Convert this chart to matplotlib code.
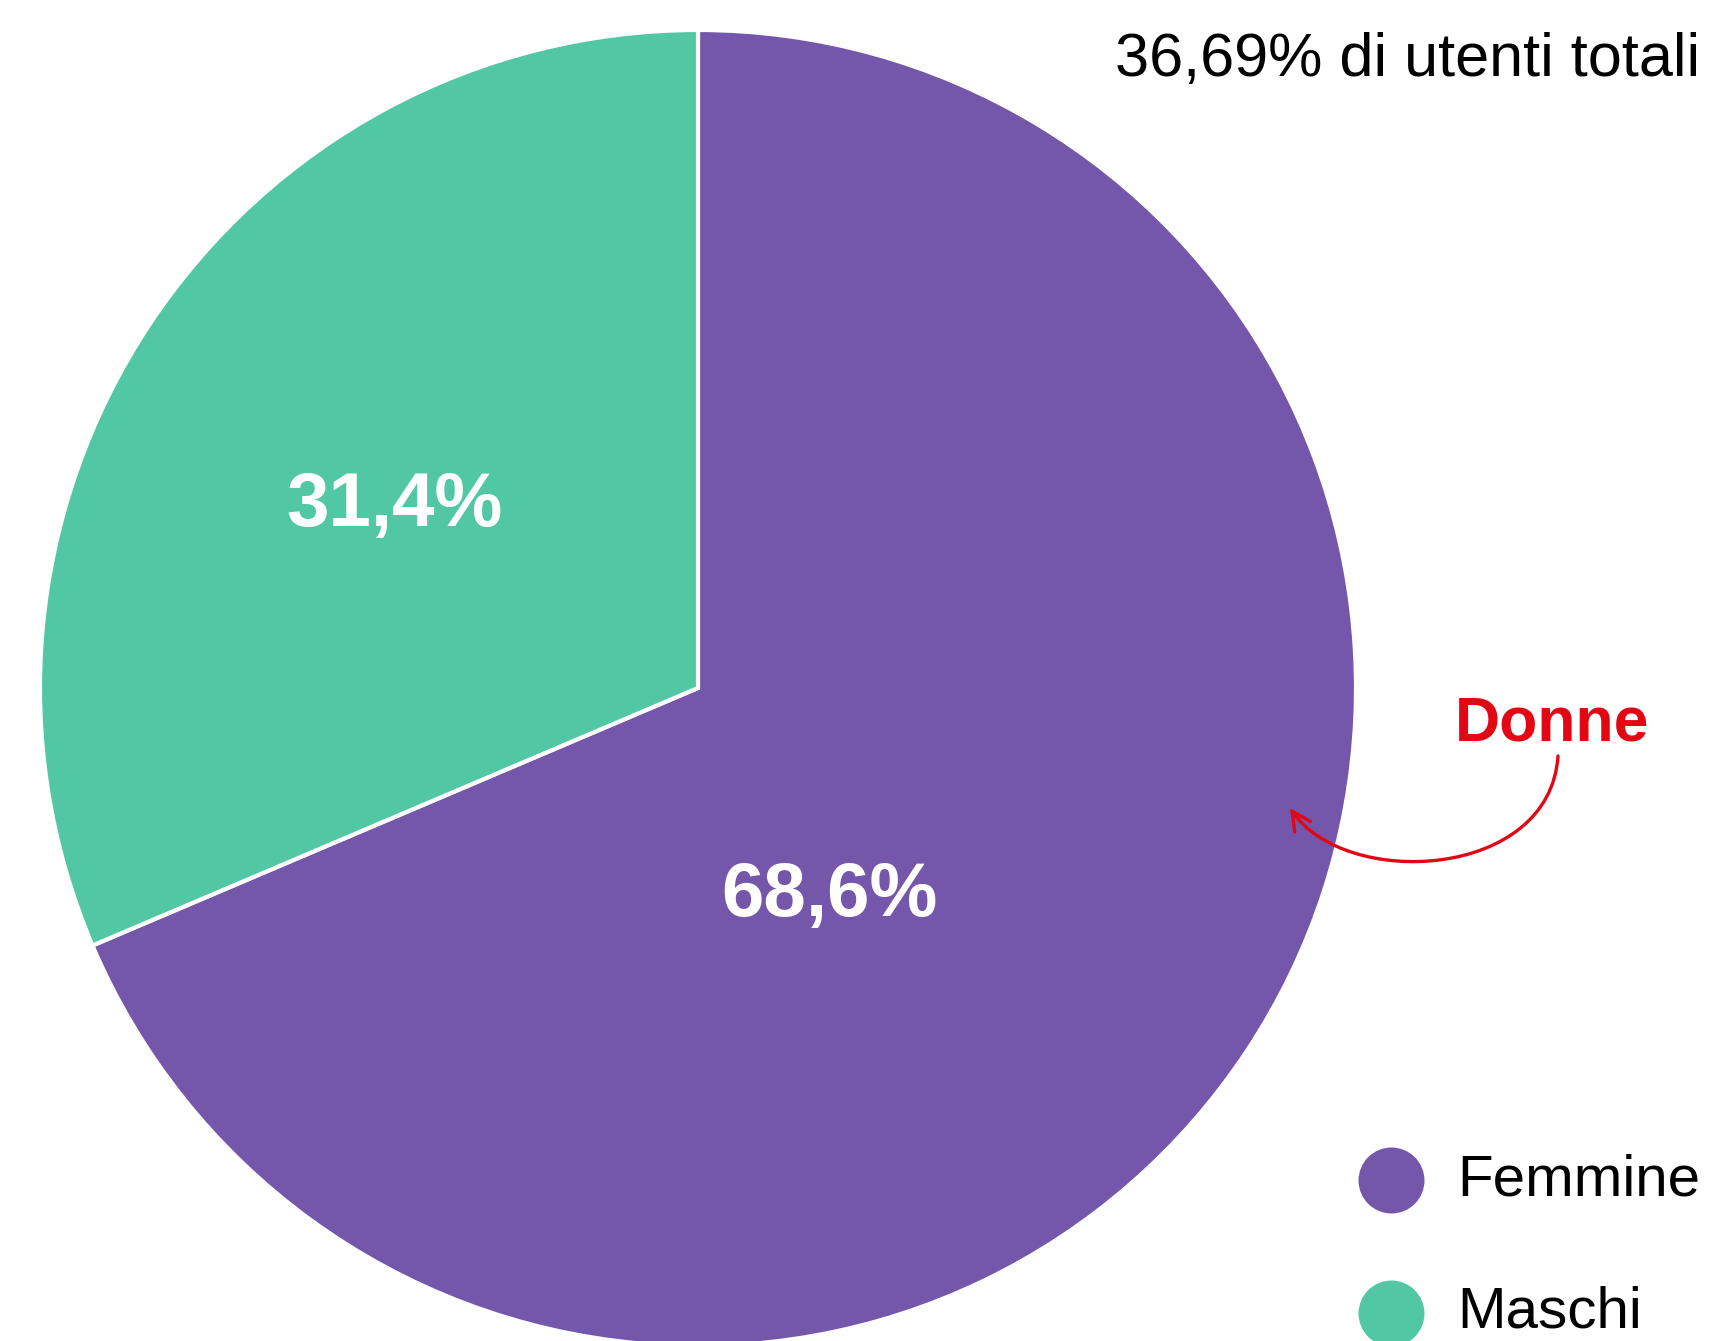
import matplotlib.pyplot as plt
from matplotlib.patches import FancyArrowPatch
from matplotlib.path import Path

# data
labels = ['Femmine', 'Maschi']
values = [68.6, 31.4]
colors = ['#7457AA', '#52C7A3']
subtitle = '36,69% di utenti totali'
callout = 'Donne'

W, H = 1711, 1341
fig = plt.figure(figsize=(W / 100, H / 100), dpi=100)
ax = fig.add_axes([0, 0, 1, 1])

plt.rcParams['font.family'] = ['Liberation Sans', 'DejaVu Sans']

# pie in pixel coords (y up)
cx, cy, r = 698, H - 688, 658
wedges, texts, autotexts = ax.pie(
    values, colors=colors, startangle=90, counterclock=False,
    center=(cx, cy), radius=r, frame=True,
    autopct=lambda p: f'{p:.1f}%'.replace('.', ','), pctdistance=0.55,
    wedgeprops=dict(edgecolor='white', linewidth=3),
    textprops=dict(color='white', fontsize=55, fontweight='bold'))
ax.set_xlim(0, W)
ax.set_ylim(0, H)
ax.set_aspect('equal')
ax.axis('off')

# label positions (baseline) as in the original
autotexts[0].set_position((829, H - 916))
autotexts[1].set_position((394, H - 526))
for t in autotexts:
    t.set_ha('center')
    t.set_va('baseline')

# top-right note
ax.text(1700, H - 76, subtitle, ha='right', va='baseline', fontsize=44,
        color='black')

# callout + curved arrow
red = '#E30613'
ax.text(1455, H - 740, callout, ha='left', va='baseline', fontsize=45,
        fontweight='bold', color=red)
p = [(1558, 756), (1550, 880), (1345, 890), (1290, 808)]
curve = Path([(x, H - y) for x, y in p],
             [Path.MOVETO, Path.CURVE4, Path.CURVE4, Path.CURVE4])
ax.add_patch(FancyArrowPatch(path=curve, arrowstyle='->', color=red, lw=2.4,
                             mutation_scale=34))

# legend
for i, (lab, col) in enumerate(zip(labels, colors)):
    y = H - (1180 + 133 * i)
    ax.plot(1391, y, 'o', markersize=47.5, color=col, markeredgewidth=0,
            clip_on=False)
    ax.text(1457, y, lab, ha='left', va='center', fontsize=42, color='black')

plt.savefig('out.png', dpi=100)
